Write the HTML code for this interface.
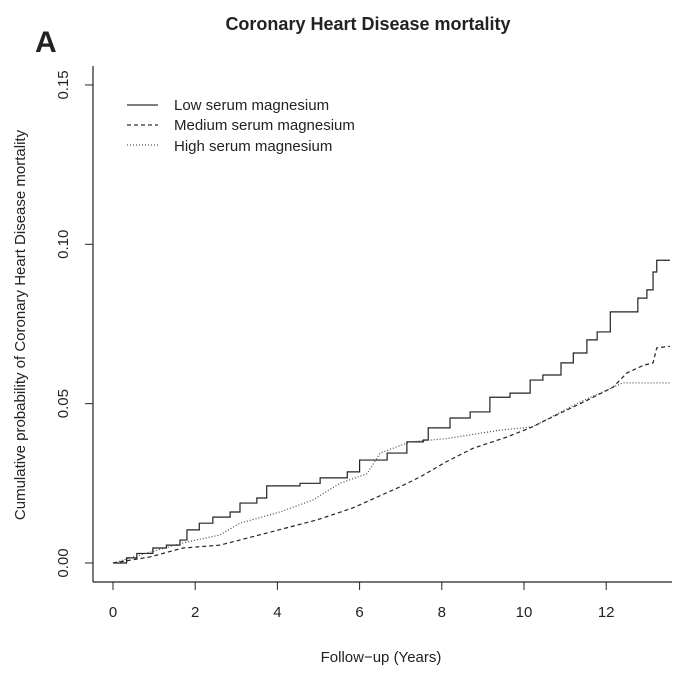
<!DOCTYPE html>
<html><head><meta charset="utf-8"><style>
body{margin:0;background:#fff}
svg{display:block;font-family:"Liberation Sans",Arial,sans-serif}
</style></head><body>
<svg id="chart" width="697" height="680" viewBox="0 0 697 680">
<text x="368" y="30" text-anchor="middle" font-size="18" font-weight="bold" fill="#222">Coronary Heart Disease mortality</text>
<text x="35" y="52" font-size="30" font-weight="bold" fill="#222">A</text>
<line x1="93" y1="66" x2="93" y2="582" stroke="#222" stroke-width="1.2"/>
<line x1="93" y1="582" x2="672" y2="582" stroke="#222" stroke-width="1.2"/>
<text transform="translate(25,325) rotate(-90)" text-anchor="middle" font-size="15" fill="#222">Cumulative probability of Coronary Heart Disease mortality</text>
<text x="381" y="662" text-anchor="middle" font-size="15" fill="#222">Follow−up (Years)</text>
<g id="ticks"></g>
<g id="series"></g>
<g>
<line x1="127" y1="105" x2="158" y2="105" stroke="#333" stroke-width="1.2"/>
<text x="174" y="110" font-size="15" fill="#222">Low serum magnesium</text>
<line x1="127" y1="125" x2="158" y2="125" stroke="#333" stroke-width="1.2" stroke-dasharray="4,3"/>
<text x="174" y="130" font-size="15" fill="#222">Medium serum magnesium</text>
<line x1="127" y1="145" x2="158" y2="145" stroke="#555" stroke-width="1.2" stroke-dasharray="1,2"/>
<text x="174" y="151" font-size="15" fill="#222">High serum magnesium</text>
</g>
</svg>
<script>
const xTicks=[0,2,4,6,8,10,12];
const yTicks=[0,0.05,0.10,0.15];
const yTickLabels=["0.00","0.05","0.10","0.15"];
const lowT=[0,0.33,0.58,0.97,1.3,1.63,1.8,2.1,2.43,2.85,3.09,3.5,3.74,4.55,5.04,5.7,6.0,6.67,7.15,7.55,7.67,8.2,8.69,9.17,9.66,10.15,10.46,10.9,11.2,11.53,11.78,12.1,12.77,12.99,13.14,13.23,13.55];
const lowV=[0,0.0016,0.003,0.0047,0.0056,0.0072,0.0104,0.0125,0.0144,0.016,0.0188,0.0204,0.0242,0.025,0.0267,0.0286,0.0323,0.0345,0.038,0.0386,0.0424,0.0455,0.0474,0.052,0.0533,0.0574,0.059,0.0628,0.0659,0.07,0.0725,0.0788,0.0831,0.0857,0.0913,0.095,0.095];
const medT=[0,0.9,1.7,2.6,3.74,4.96,5.84,7.0,7.47,8.1,8.76,9.58,10.2,10.88,11.53,12.17,12.5,12.9,13.14,13.23,13.55];
const medV=[0,0.0019,0.0047,0.0056,0.0094,0.0135,0.0173,0.024,0.027,0.0317,0.036,0.0395,0.0427,0.047,0.051,0.0552,0.0596,0.062,0.0628,0.0675,0.068];
const highT=[0,0.9,1.7,2.6,3.09,4.06,4.87,5.52,6.18,6.5,6.81,7.23,8.1,9.42,10.2,11.36,11.85,12.4,13.55];
const highV=[0,0.0034,0.0063,0.0088,0.0125,0.016,0.0198,0.025,0.028,0.0345,0.036,0.038,0.039,0.0417,0.0427,0.0505,0.0533,0.0565,0.0565];
const NS="http://www.w3.org/2000/svg";
function xs(t){return 113+t*41.1;}
function ys(v){return 563-v*3187;}
const tg=document.getElementById('ticks');
xTicks.forEach(t=>{
 const l=document.createElementNS(NS,'line');
 l.setAttribute('x1',xs(t));l.setAttribute('x2',xs(t));l.setAttribute('y1',582);l.setAttribute('y2',590);l.setAttribute('stroke','#222');
 
 
 tg.appendChild(l);
 const tx=document.createElementNS(NS,'text');
 tx.setAttribute('x',xs(t));tx.setAttribute('y',617);tx.setAttribute('text-anchor','middle');tx.setAttribute('font-size','15');tx.setAttribute('fill','#222');
 tx.textContent=t;
 
 
 tg.appendChild(tx);
});
yTicks.forEach((v,i)=>{
 const l=document.createElementNS(NS,'line');
 l.setAttribute('x1',85);l.setAttribute('x2',93);l.setAttribute('y1',ys(v));l.setAttribute('y2',ys(v));l.setAttribute('stroke','#222');
 
 
 tg.appendChild(l);
 const tx=document.createElementNS(NS,'text');
 tx.setAttribute('transform','translate(68,'+ys(v)+') rotate(-90)');tx.setAttribute('text-anchor','middle');tx.setAttribute('font-size','15');tx.setAttribute('fill','#222');
 tx.textContent=yTickLabels[i];
 
 
 tg.appendChild(tx);
});
function step(T,V){
 let d='M'+xs(T[0])+','+ys(V[0]);
 for(let i=1;i<T.length;i++){d+=' H'+xs(T[i])+' V'+ys(V[i]);}
 return d;
}
function line(T,V){
 let d='M'+xs(T[0])+','+ys(V[0]);
 for(let i=1;i<T.length;i++){d+=' L'+xs(T[i])+','+ys(V[i]);}
 return d;
}
const sg=document.getElementById('series');
[[lowT,lowV,'none','#222','series-low',step],[medT,medV,'4,3','#222','series-medium',line],[highT,highV,'1,2','#444','series-high',line]].forEach(s=>{
 const p=document.createElementNS(NS,'path');
 p.setAttribute('d',s[5](s[0],s[1]));p.setAttribute('fill','none');p.setAttribute('stroke',s[3]);p.setAttribute('stroke-width','1.2');
 if(s[2]!=='none')p.setAttribute('stroke-dasharray',s[2]);
 
 
 sg.appendChild(p);
});
</script>
</body></html>
